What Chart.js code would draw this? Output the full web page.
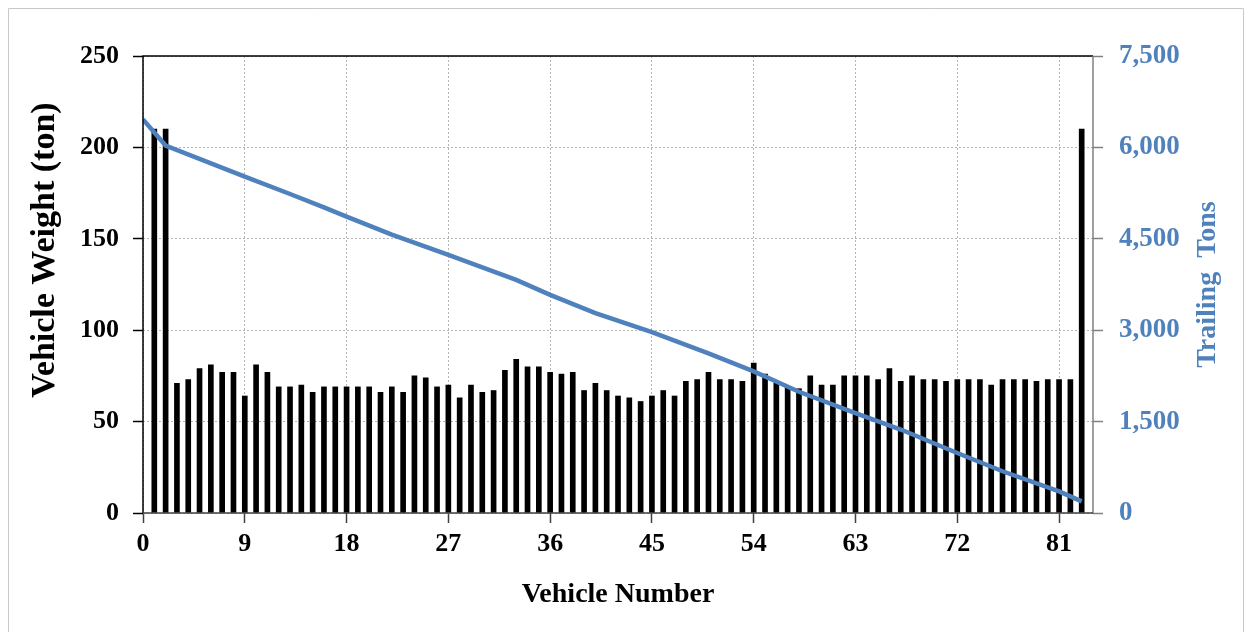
<!DOCTYPE html>
<html>
<head>
<meta charset="utf-8">
<script src="https://cdn.jsdelivr.net/npm/chart.js@4"></script>
<style>
	html, body { margin: 0; padding: 0; background: #fff; }
	#wrap { position: relative; width: 1252px; height: 632px; }
</style>
</head>
<body>
<div id="wrap"><canvas id="myChart" width="1252" height="632"></canvas></div>
<script>
// vehicle number (x) and weight of each vehicle in tons (left axis)
const vehicleNumbers = [
	1, 2, 3, 4, 5, 6, 7, 8, 9, 10, 11, 12, 13, 14, 15, 16, 17, 18, 19, 20,
	21, 22, 23, 24, 25, 26, 27, 28, 29, 30, 31, 32, 33, 34, 35, 36, 37, 38, 39, 40,
	41, 42, 43, 44, 45, 46, 47, 48, 49, 50, 51, 52, 53, 54, 55, 56, 57, 58, 59, 60,
	61, 62, 63, 64, 65, 66, 67, 68, 69, 70, 71, 72, 73, 74, 75, 76, 77, 78, 79, 80,
	81, 82, 83
];
const vehicleWeights = [
	210, 210, 71, 73, 79, 81, 77, 77, 64, 81, 77, 69, 69, 70, 66, 69, 69, 69, 69, 69,
	66, 69, 66, 75, 74, 69, 70, 63, 70, 66, 67, 78, 84, 80, 80, 77, 76, 77, 67, 71,
	67, 64, 63, 61, 64, 67, 64, 72, 73, 77, 73, 73, 72, 82, 76, 71, 69, 68, 75, 70,
	70, 75, 75, 75, 73, 79, 72, 75, 73, 73, 72, 73, 73, 73, 70, 73, 73, 73, 72, 73,
	73, 73, 210
];

// trailing tons line (right axis), read at these vehicle positions
const trailingX = [0, 2, 9, 13, 16, 18, 22, 27, 33, 36, 40, 45, 50, 54, 58, 63, 67, 72, 76, 81, 83];
const trailingTons = [6460, 6030, 5520, 5235, 5015, 4865, 4570, 4235, 3825, 3580, 3280, 2970, 2620, 2325, 1990, 1640, 1370, 985, 685, 355, 190];

const xTicks = [0, 9, 18, 27, 36, 45, 54, 63, 72, 81];
const weightTicks = [0, 50, 100, 150, 200, 250];
const tonTicks = [0, 1500, 3000, 4500, 6000, 7500];

const serif = '"Liberation Serif", "Times New Roman", serif';
const blue = '#4F81BD';
const gridGrey = '#b4b4b4';

function rotatedText(ctx, text, x, y, size, color) {
	ctx.save();
	ctx.translate(x, y);
	ctx.rotate(-Math.PI / 2);
	ctx.font = 'bold ' + size + 'px ' + serif;
	ctx.fillStyle = color;
	ctx.textAlign = 'center';
	ctx.textBaseline = 'middle';
	ctx.fillText(text, 0, 0);
	ctx.restore();
}

// outer frame, axis lines and the two vertical titles
const extras = {
	id: 'extras',
	beforeDraw(chart) {
		const ctx = chart.ctx;
		ctx.save();
		ctx.fillStyle = '#fff';
		ctx.fillRect(0, 0, chart.width, chart.height);
		ctx.strokeStyle = '#c8c8c8';
		ctx.lineWidth = 1;
		ctx.beginPath();
		ctx.moveTo(8.5, chart.height);
		ctx.lineTo(8.5, 8.5);
		ctx.lineTo(1243.5, 8.5);
		ctx.lineTo(1243.5, chart.height);
		ctx.stroke();
		ctx.restore();
	},
	afterDraw(chart) {
		const ctx = chart.ctx;
		const a = chart.chartArea;
		ctx.save();
		ctx.lineWidth = 1.5;
		ctx.strokeStyle = '#000';
		ctx.beginPath();
		ctx.moveTo(a.left, a.bottom);
		ctx.lineTo(a.left, a.top);
		ctx.lineTo(a.right, a.top);
		ctx.stroke();
		ctx.strokeStyle = '#808080';
		ctx.beginPath();
		ctx.moveTo(a.right, a.top);
		ctx.lineTo(a.right, a.bottom);
		ctx.stroke();
		ctx.strokeStyle = '#404040';
		ctx.beginPath();
		ctx.moveTo(a.left, a.bottom);
		ctx.lineTo(a.right, a.bottom);
		ctx.stroke();
		ctx.restore();

		rotatedText(ctx, 'Vehicle Weight (ton)', 45, 250, 34, '#000');
		rotatedText(ctx, 'Trailing  Tons', 1208, (a.top + a.bottom) / 2, 28, blue);
	}
};

new Chart(document.getElementById('myChart'), {
	type: 'bar',
	data: {
		datasets: [
			{
				type: 'line',
				label: 'Trailing Tons',
				data: trailingX.map((x, i) => ({ x: x, y: trailingTons[i] })),
				borderColor: blue,
				borderWidth: 4.5,
				pointRadius: 0,
				tension: 0,
				xAxisID: 'x',
				yAxisID: 'y2',
				order: 0
			},
			{
				label: 'Vehicle Weight',
				data: vehicleNumbers.map((n, i) => ({ x: n, y: vehicleWeights[i] })),
				backgroundColor: '#000',
				barThickness: 5,
				xAxisID: 'x',
				yAxisID: 'y',
				order: 1
			}
		]
	},
	options: {
		responsive: false,
		animation: false,
		layout: { padding: { left: 0, right: 0, top: 56, bottom: 0 } },
		plugins: {
			legend: { display: false },
			tooltip: { enabled: false }
		},
		scales: {
			x: {
				type: 'linear',
				min: 0,
				max: 84,
				offset: false,
				afterBuildTicks: (s) => { s.ticks = xTicks.map((v) => ({ value: v })); },
				afterFit: (s) => { s.height = 632 - 513; },
				grid: {
					color: gridGrey,
					offset: false,
					tickLength: 10,
					tickColor: '#404040',
					tickWidth: 1.5
				},
				border: { display: false, dash: [2, 2] },
				ticks: {
					color: '#000',
					padding: 6,
					maxRotation: 0,
					autoSkip: false,
					font: { family: serif, size: 26, weight: 'bold' }
				},
				title: {
					display: true,
					text: 'Vehicle Number',
					color: '#000',
					padding: { top: 0, bottom: 20 },
					font: { family: serif, size: 28, weight: 'bold' }
				}
			},
			y: {
				position: 'left',
				min: 0,
				max: 250,
				afterBuildTicks: (s) => { s.ticks = weightTicks.map((v) => ({ value: v })); },
				afterFit: (s) => { s.width = 143; },
				grid: {
					color: gridGrey,
					tickLength: 10,
					tickColor: '#000',
					tickWidth: 1.5
				},
				border: { display: false, dash: [2, 2] },
				ticks: {
					color: '#000',
					padding: 14,
					font: { family: serif, size: 26, weight: 'bold' }
				}
			},
			y2: {
				position: 'right',
				min: 0,
				max: 7500,
				afterBuildTicks: (s) => { s.ticks = tonTicks.map((v) => ({ value: v })); },
				afterFit: (s) => { s.width = 1252 - 1093; },
				grid: {
					drawOnChartArea: false,
					tickLength: 10,
					tickColor: '#808080',
					tickWidth: 1.5
				},
				border: { display: false },
				ticks: {
					color: blue,
					padding: 16,
					callback: (v) => v.toLocaleString('en-US'),
					font: { family: serif, size: 27, weight: 'bold' }
				}
			}
		}
	},
	plugins: [extras]
});
</script>
</body>
</html>
